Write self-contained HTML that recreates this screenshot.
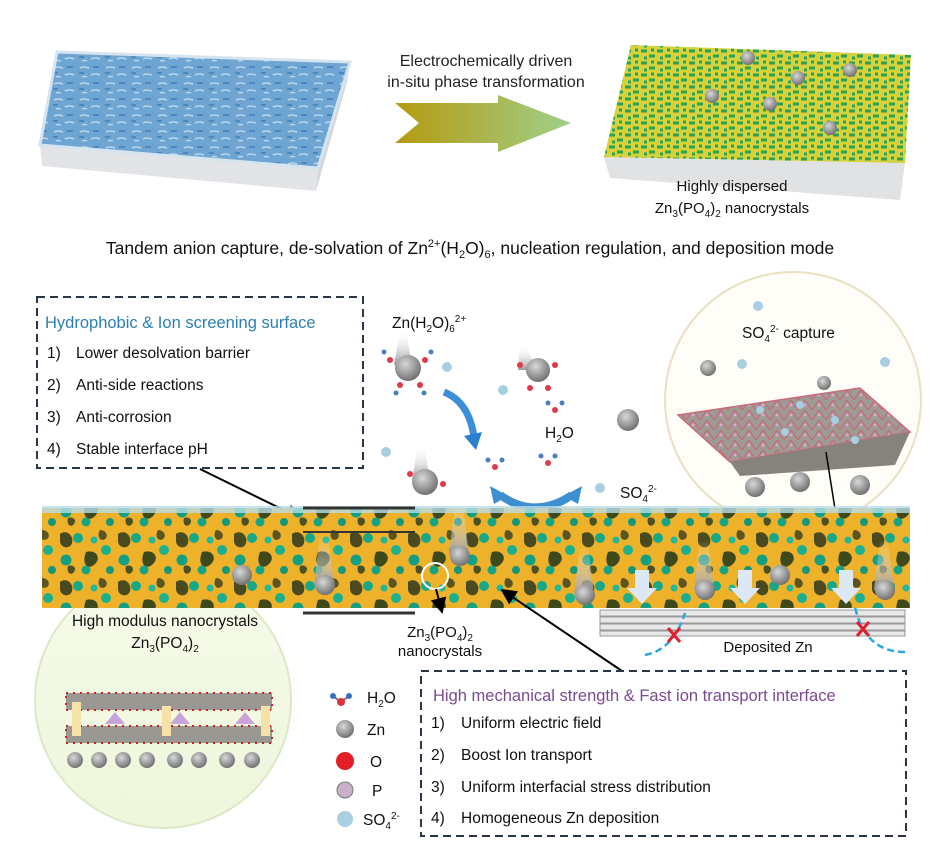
<!DOCTYPE html>
<html><head><meta charset="utf-8"><style>
html,body{margin:0;padding:0;background:#fff;}
body{width:941px;height:847px;overflow:hidden;position:relative;font-family:"Liberation Sans",Arial,sans-serif;}
svg{position:absolute;left:0;top:0;}
text{font-family:"Liberation Sans",Arial,sans-serif;}
</style></head><body>
<svg width="941" height="847" viewBox="0 0 941 847" xmlns="http://www.w3.org/2000/svg">
<defs>
<linearGradient id="arr" x1="0" x2="1" y1="0" y2="0"><stop offset="0" stop-color="#b59a10"/><stop offset="1" stop-color="#9fd08a"/></linearGradient>
<pattern id="bp" width="26" height="16" patternUnits="userSpaceOnUse"><rect width="26" height="16" fill="#6ea5d3"/><path d="M2 4q4-2 9 0M13 11q4-2 9 0M4 13q2-1 5 0" stroke="#b8d6ee" stroke-width="1.6" fill="none"/><path d="M15 3h6M1 9h5" stroke="#4f88bc" stroke-width="2"/></pattern>
<pattern id="gp" width="16" height="12" patternUnits="userSpaceOnUse"><rect width="16" height="12" fill="#d7d23c"/><path d="M1 3h6M9 8h6M4 10h3M11 2h3" stroke="#2aa155" stroke-width="3"/></pattern>
<pattern id="sp" width="58" height="48" patternUnits="userSpaceOnUse"><rect width="58" height="48" fill="#eeb22a"/>
<path d="M2 6c7-5 14 2 12 9s-12 5-12-2z" fill="#4a4a20"/><path d="M28 24c9-3 16 5 9 12s-14 0-9-12z" fill="#3f4a1c"/><path d="M42 2c6 0 9 6 5 9s-9-2-5-9z" fill="#5a5520"/><path d="M10 38c5-2 9 2 6 6s-8 1-6-6z" fill="#4c5124"/>
<circle cx="20" cy="10" r="5" fill="#17a88a"/><circle cx="8" cy="32" r="5.5" fill="#149f83"/><circle cx="48" cy="22" r="5" fill="#1bb08f"/><circle cx="28" cy="42" r="4.5" fill="#15a285"/><circle cx="52" cy="42" r="4" fill="#13967b"/><circle cx="36" cy="12" r="3.5" fill="#20b898"/>
</pattern>
<pattern id="lat" width="14" height="10" patternUnits="userSpaceOnUse"><rect width="14" height="10" fill="#9e9a94"/><path d="M0 10L7 0L14 10" fill="none" stroke="#c86a78" stroke-width="1.2"/><circle cx="7" cy="5" r="1.5" fill="#d8a8d0"/></pattern>
<radialGradient id="zn" cx="0.4" cy="0.35" r="0.7"><stop offset="0" stop-color="#d8d8d8"/><stop offset="1" stop-color="#6a6a6a"/></radialGradient>
<linearGradient id="tail" x1="0" x2="0" y1="0" y2="1"><stop offset="0" stop-color="#fff" stop-opacity="0"/><stop offset="1" stop-color="#999"/></linearGradient>
<linearGradient id="bub" x1="0" x2="0" y1="0" y2="1"><stop offset="0" stop-color="#f6fbe9"/><stop offset="1" stop-color="#eef6dc"/></linearGradient>
<marker id="ah" markerWidth="8" markerHeight="8" refX="7" refY="4" orient="auto"><path d="M0 0L8 4L0 8z" fill="#000"/></marker>
</defs>

<!-- top left slab -->
<polygon points="40,145 318,168 316,191 42,166" fill="#e2e4e7"/>
<polygon points="350,62 318,168 316,191 347,82" fill="#d4d7db"/>
<polygon points="57,52 350,62 318,168 40,145" fill="url(#bp)" stroke="#d6e4ef" stroke-width="3"/>
<!-- arrow -->
<polygon points="395,103 498,103 498,95 571,123 498,152 498,143 395,143 419,123" fill="url(#arr)"/>
<text x="486" y="66" font-size="16" text-anchor="middle" fill="#222">Electrochemically driven</text>
<text x="486" y="87" font-size="16" text-anchor="middle" fill="#222">in-situ phase transformation</text>
<!-- top right slab -->
<polygon points="604,157 905,163 900,200 610,178" fill="#e0e2e4"/>
<polygon points="631,45 911,55 905,163 604,157" fill="url(#gp)"/>
<g fill="url(#zn)"><circle cx="748" cy="58" r="7"/><circle cx="798" cy="78" r="7"/><circle cx="850" cy="70" r="7"/><circle cx="712" cy="96" r="7"/><circle cx="770" cy="104" r="7"/><circle cx="830" cy="128" r="7"/></g>
<text x="732" y="191" font-size="15" text-anchor="middle" fill="#111">Highly dispersed</text>
<text x="732" y="213" font-size="15" text-anchor="middle" fill="#111">Zn<tspan font-size="10" dy="4">3</tspan><tspan dy="-4">(PO</tspan><tspan font-size="10" dy="4">4</tspan><tspan dy="-4">)</tspan><tspan font-size="10" dy="4">2</tspan><tspan dy="-4"> nanocrystals</tspan></text>

<text x="470" y="254" font-size="17.5" text-anchor="middle" fill="#111">Tandem anion capture, de-solvation of Zn<tspan font-size="11" dy="-7">2+</tspan><tspan dy="7">(H</tspan><tspan font-size="11" dy="4">2</tspan><tspan dy="-4">O)</tspan><tspan font-size="11" dy="4">6</tspan><tspan dy="-4">, nucleation regulation, and deposition mode</tspan></text>

<!-- bubbles -->
<circle cx="163" cy="700" r="128" fill="url(#bub)" stroke="#dde8c8" stroke-width="2"/>
<circle cx="793" cy="400" r="128" fill="#fffdf7" stroke="#eadfc0" stroke-width="2"/>

<!-- left dashed box -->
<rect x="37" y="297" width="326" height="171" fill="none" stroke="#2a3548" stroke-width="2" stroke-dasharray="8,5"/>
<text x="45" y="328" font-size="16.5" fill="#2d7fb0">Hydrophobic &amp; Ion screening surface</text>
<g font-size="15.5" fill="#111">
<text x="47" y="358">1)</text><text x="76" y="358">Lower desolvation barrier</text>
<text x="47" y="390">2)</text><text x="76" y="390">Anti-side reactions</text>
<text x="47" y="422">3)</text><text x="76" y="422">Anti-corrosion</text>
<text x="47" y="454">4)</text><text x="76" y="454">Stable interface pH</text>
</g>
<line x1="200" y1="469" x2="300" y2="518" stroke="#000" stroke-width="2" marker-end="url(#ah)"/>

<!-- Zn(H2O)6 labels and ions -->
<text x="392" y="328" font-size="15.5" fill="#111">Zn(H<tspan font-size="10" dy="4">2</tspan><tspan dy="-4">O)</tspan><tspan font-size="10" dy="4">6</tspan><tspan font-size="10" dy="-10">2+</tspan></text>
<g fill="url(#tail)"><path d="M400 330l6 0 6 35h-18z"/><path d="M520 345l6 0 10 25h-18z"/><path d="M418 445l6 0 6 35h-18z"/></g>
<g fill="url(#zn)"><circle cx="408" cy="368" r="13"/><circle cx="538" cy="370" r="12"/><circle cx="425" cy="482" r="13"/><circle cx="628" cy="420" r="11"/><circle cx="708" cy="368" r="8"/><circle cx="824" cy="383" r="7"/></g>
<g fill="#e03a4a"><circle cx="390" cy="360" r="3"/><circle cx="425" cy="360" r="3"/><circle cx="400" cy="385" r="3"/><circle cx="420" cy="385" r="3"/><circle cx="520" cy="365" r="3"/><circle cx="555" cy="365" r="3"/><circle cx="530" cy="388" r="3"/><circle cx="548" cy="388" r="3"/><circle cx="555" cy="410" r="3"/><circle cx="495" cy="467" r="3"/><circle cx="548" cy="463" r="3"/><circle cx="410" cy="474" r="3"/><circle cx="443" cy="484" r="3"/></g>
<g fill="#4a7ec0"><circle cx="384" cy="352" r="2.5"/><circle cx="431" cy="352" r="2.5"/><circle cx="396" cy="393" r="2.5"/><circle cx="424" cy="393" r="2.5"/><circle cx="488" cy="460" r="2.5"/><circle cx="502" cy="460" r="2.5"/><circle cx="541" cy="456" r="2.5"/><circle cx="555" cy="456" r="2.5"/><circle cx="548" cy="403" r="2.5"/><circle cx="562" cy="403" r="2.5"/></g>
<g fill="#a8cfe0"><circle cx="447" cy="367" r="5"/><circle cx="503" cy="390" r="5"/><circle cx="386" cy="452" r="5"/><circle cx="600" cy="488" r="5"/><circle cx="758" cy="306" r="5"/><circle cx="885" cy="362" r="5"/><circle cx="742" cy="364" r="5"/></g>
<path d="M444 392q25 10 30 45" fill="none" stroke="#3a8fd8" stroke-width="7"/><path d="M464 436l12 14 6-18z" fill="#2a7fd0"/>
<path d="M500 495q35 25 72 0" fill="none" stroke="#3d8fd0" stroke-width="8"/><path d="M490 486l4 18 14-8z M582 486l-4 18-14-8z" fill="#3d8fd0"/>
<text x="545" y="438" font-size="15.5" fill="#111">H<tspan font-size="10" dy="4">2</tspan><tspan dy="-4">O</tspan></text>
<text x="620" y="498" font-size="15.5" fill="#111">SO<tspan font-size="10" dy="4">4</tspan><tspan font-size="10" dy="-10">2-</tspan></text>
<text x="742" y="338" font-size="15.5" fill="#111">SO<tspan font-size="10" dy="4">4</tspan><tspan font-size="10" dy="-10">2-</tspan><tspan dy="6"> capture</tspan></text>
<!-- crystal sheet in right bubble -->
<polygon points="678,415 860,388 910,432 730,462" fill="url(#lat)" stroke="#c86a78" stroke-width="1.5"/>
<polygon points="730,462 910,432 895,465 740,476" fill="#86827c"/>
<g fill="#a8cfe0"><circle cx="760" cy="410" r="4"/><circle cx="800" cy="405" r="4"/><circle cx="835" cy="420" r="4"/><circle cx="785" cy="432" r="4"/><circle cx="855" cy="440" r="4"/></g>
<g fill="url(#zn)"><circle cx="755" cy="487" r="10"/><circle cx="800" cy="482" r="10"/><circle cx="860" cy="485" r="10"/></g>
<line x1="826" y1="452" x2="838" y2="528" stroke="#000" stroke-width="1.5"/>

<!-- main slab -->
<rect x="42" y="508" width="868" height="100" fill="url(#sp)"/>
<rect x="42" y="506" width="868" height="7" fill="#b8dde8" opacity="0.8"/>
<g fill="url(#tail)"><path d="M320 535l8 0 6 50h-20z"/><path d="M455 505l8 0 6 50h-20z"/><path d="M700 540l8 0 6 50h-20z"/><path d="M880 540l8 0 6 50h-20z"/><path d="M580 545l8 0 6 50h-20z"/></g>
<g fill="url(#zn)"><circle cx="325" cy="585" r="10"/><circle cx="460" cy="556" r="10"/><circle cx="705" cy="590" r="10"/><circle cx="885" cy="590" r="10"/><circle cx="585" cy="595" r="10"/><circle cx="242" cy="575" r="10"/><circle cx="780" cy="575" r="10"/></g>
<g fill="#dce8f5"><path d="M635 570h14v18h8l-15 16-15-16h8z"/><path d="M738 570h14v18h8l-15 16-15-16h8z"/><path d="M839 570h14v18h8l-15 16-15-16h8z"/></g>
<line x1="303" y1="508" x2="415" y2="508" stroke="#333" stroke-width="3"/>
<line x1="303" y1="532" x2="415" y2="532" stroke="#333" stroke-width="2"/>
<line x1="303" y1="613" x2="415" y2="613" stroke="#333" stroke-width="3"/>
<circle cx="435" cy="576" r="13" fill="none" stroke="#fff" stroke-width="2"/>
<line x1="436" y1="589" x2="442" y2="612" stroke="#000" stroke-width="2" marker-end="url(#ah)"/>
<line x1="622" y1="671" x2="502" y2="590" stroke="#000" stroke-width="2" marker-end="url(#ah)"/>
<!-- deposited zn -->
<g fill="#e8e8e8" stroke="#999" stroke-width="1"><rect x="600" y="610" width="305" height="6"/><rect x="600" y="617" width="305" height="6"/><rect x="600" y="624" width="305" height="6"/><rect x="600" y="631" width="305" height="5"/></g>
<path d="M645 655q28-5 40-42" fill="none" stroke="#2aa8e0" stroke-width="2.5" stroke-dasharray="7,4"/>
<path d="M905 652q-40 0-50-45" fill="none" stroke="#2aa8e0" stroke-width="2.5" stroke-dasharray="7,4"/>
<path d="M668 628l12 14M680 628l-12 14M857 622l12 14M869 622l-12 14" stroke="#e02030" stroke-width="3"/>
<text x="768" y="652" font-size="15" text-anchor="middle" fill="#111">Deposited Zn</text>
<text x="440" y="637" font-size="15" text-anchor="middle" fill="#111">Zn<tspan font-size="10" dy="4">3</tspan><tspan dy="-4">(PO</tspan><tspan font-size="10" dy="4">4</tspan><tspan dy="-4">)</tspan><tspan font-size="10" dy="4">2</tspan></text>
<text x="440" y="656" font-size="15" text-anchor="middle" fill="#111">nanocrystals</text>

<!-- left bubble content -->
<text x="165" y="626" font-size="15.5" text-anchor="middle" fill="#111">High modulus nanocrystals</text>
<text x="165" y="648" font-size="15.5" text-anchor="middle" fill="#111">Zn<tspan font-size="10" dy="4">3</tspan><tspan dy="-4">(PO</tspan><tspan font-size="10" dy="4">4</tspan><tspan dy="-4">)</tspan><tspan font-size="10" dy="4">2</tspan></text>
<rect x="66" y="693" width="206" height="17" fill="#9a9893" stroke="#d02020" stroke-width="2" stroke-dasharray="2,5"/>
<rect x="66" y="726" width="206" height="17" fill="#9a9893" stroke="#d02020" stroke-width="2" stroke-dasharray="2,5"/>
<g fill="#c9a4d8"><polygon points="115,712 125,724 105,724"/><polygon points="180,712 190,724 170,724"/><polygon points="245,712 255,724 235,724"/></g>
<g fill="#f6e2a8"><rect x="72" y="702" width="9" height="34"/><rect x="162" y="706" width="9" height="30"/><rect x="261" y="706" width="9" height="30"/></g>
<g fill="url(#zn)"><circle cx="75" cy="760" r="8"/><circle cx="99" cy="760" r="8"/><circle cx="123" cy="760" r="8"/><circle cx="147" cy="760" r="8"/><circle cx="175" cy="760" r="8"/><circle cx="199" cy="760" r="8"/><circle cx="227" cy="760" r="8"/><circle cx="252" cy="760" r="8"/></g>

<!-- legend -->
<path d="M333 696l8 6 8-6" fill="none" stroke="#777" stroke-width="2"/><circle cx="333" cy="696" r="3" fill="#3a70c0"/><circle cx="349" cy="696" r="3" fill="#3a70c0"/><circle cx="341" cy="702" r="4" fill="#e0303a"/>
<circle cx="345" cy="729" r="9" fill="url(#zn)"/>
<circle cx="345" cy="761" r="9" fill="#e41e26"/>
<circle cx="345" cy="790" r="8" fill="#c8b0c8" stroke="#777"/>
<circle cx="345" cy="819" r="8" fill="#a8d0e0"/>
<g font-size="15.5" fill="#111">
<text x="367" y="703">H<tspan font-size="10" dy="4">2</tspan><tspan dy="-4">O</tspan></text>
<text x="367" y="735">Zn</text>
<text x="370" y="767">O</text>
<text x="372" y="796">P</text>
<text x="363" y="825">SO<tspan font-size="10" dy="4">4</tspan><tspan font-size="10" dy="-10">2-</tspan></text>
</g>

<!-- bottom dashed box -->
<rect x="421" y="671" width="485" height="165" fill="#fff" stroke="#2a3548" stroke-width="2" stroke-dasharray="8,5"/>
<text x="433" y="701" font-size="16.5" fill="#7b4a93">High mechanical strength &amp; Fast ion transport interface</text>
<g font-size="15.5" fill="#111">
<text x="431" y="728">1)</text><text x="461" y="728">Uniform electric field</text>
<text x="431" y="760">2)</text><text x="461" y="760">Boost Ion transport</text>
<text x="431" y="792">3)</text><text x="461" y="792">Uniform interfacial stress distribution</text>
<text x="431" y="823">4)</text><text x="461" y="823">Homogeneous Zn deposition</text>
</g>
</svg>
</body></html>
